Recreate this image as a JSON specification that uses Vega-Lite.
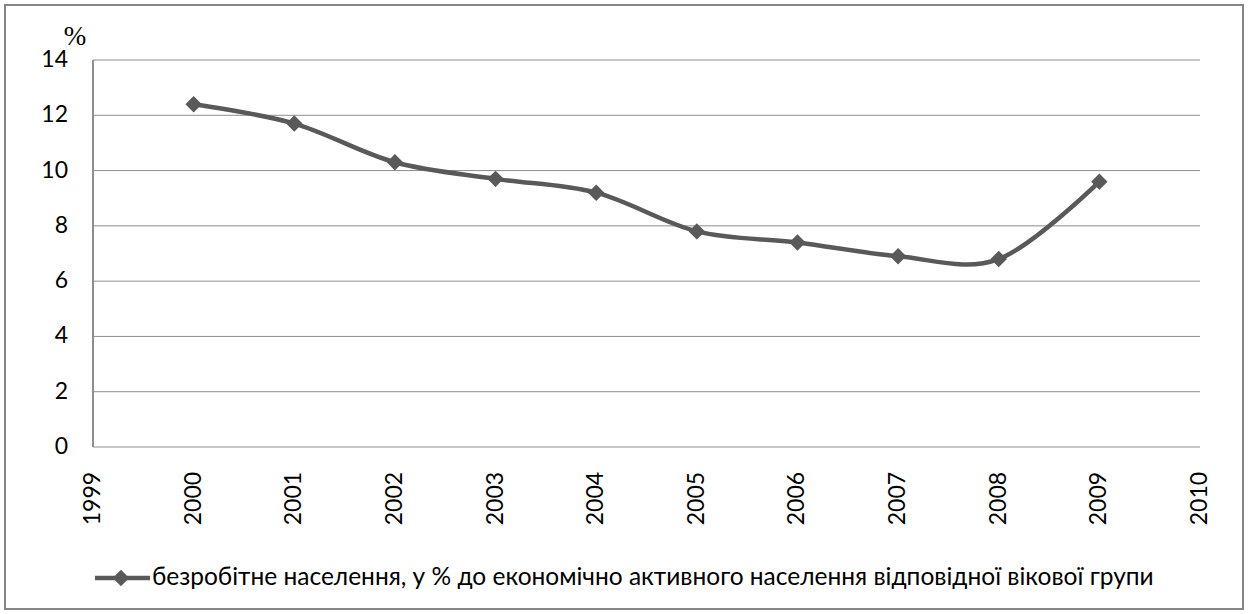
{
  "$schema": "https://vega.github.io/schema/vega-lite/v6.json",
  "width": 1248,
  "height": 614,
  "autosize": {"type": "fit", "contains": "padding"},
  "padding": 5,
  "background": "#ffffff",
  "config": {"view": {"stroke": "#868686", "strokeWidth": 2}},
  "datasets": {
    "series": [
      {"year": 2000, "value": 12.4},
      {"year": 2001, "value": 11.7},
      {"year": 2002, "value": 10.3},
      {"year": 2003, "value": 9.7},
      {"year": 2004, "value": 9.2},
      {"year": 2005, "value": 7.8},
      {"year": 2006, "value": 7.4},
      {"year": 2007, "value": 6.9},
      {"year": 2008, "value": 6.8},
      {"year": 2009, "value": 9.6}
    ],
    "yticks": [{"v": 0}, {"v": 2}, {"v": 4}, {"v": 6}, {"v": 8}, {"v": 10}, {"v": 12}, {"v": 14}],
    "xticks": [{"yr": 1999}, {"yr": 2000}, {"yr": 2001}, {"yr": 2002}, {"yr": 2003}, {"yr": 2004}, {"yr": 2005}, {"yr": 2006}, {"yr": 2007}, {"yr": 2008}, {"yr": 2009}, {"yr": 2010}],
    "legend": [{"label": "безробітне населення, у % до економічно активного населення відповідної вікової групи"}],
    "unit": [{"label": "%"}]
  },
  "layer": [
    {
      "data": {"name": "yticks"},
      "mark": {"type": "rule", "color": "#8e8e8e", "strokeWidth": 1},
      "encoding": {
        "y": {"field": "v", "type": "quantitative", "axis": null, "scale": {"domain": [-5.8605, 15.9897], "nice": false, "zero": false}},
        "x": {"datum": 1999, "type": "quantitative", "axis": null, "scale": {"domain": [1998.1256, 2010.4273], "nice": false, "zero": false}},
        "x2": {"datum": 2010}
      }
    },
    {
      "data": {"name": "yticks"},
      "mark": {"type": "rule", "color": "#8e8e8e", "strokeWidth": 1},
      "encoding": {
        "x": {"datum": 1999, "type": "quantitative", "axis": null, "scale": {"domain": [1998.1256, 2010.4273], "nice": false, "zero": false}},
        "y": {"datum": 0, "type": "quantitative", "axis": null, "scale": {"domain": [-5.8605, 15.9897], "nice": false, "zero": false}},
        "y2": {"datum": 14}
      }
    },
    {
      "data": {"name": "yticks"},
      "mark": {"type": "text", "align": "right", "baseline": "middle", "dx": -25, "font": "Lato", "fontSize": 23, "color": "#000000"},
      "encoding": {
        "x": {"datum": 1999, "type": "quantitative", "axis": null, "scale": {"domain": [1998.1256, 2010.4273], "nice": false, "zero": false}},
        "y": {"field": "v", "type": "quantitative", "axis": null, "scale": {"domain": [-5.8605, 15.9897], "nice": false, "zero": false}},
        "text": {"field": "v", "type": "quantitative"}
      }
    },
    {
      "data": {"name": "xticks"},
      "mark": {"type": "text", "align": "right", "baseline": "middle", "angle": 270, "font": "Lato", "fontSize": 23, "color": "#000000"},
      "encoding": {
        "x": {"field": "yr", "type": "quantitative", "axis": null, "scale": {"domain": [1998.1256, 2010.4273], "nice": false, "zero": false}},
        "y": {"datum": -0.9, "type": "quantitative", "axis": null, "scale": {"domain": [-5.8605, 15.9897], "nice": false, "zero": false}},
        "text": {"field": "yr", "type": "nominal"}
      }
    },
    {
      "data": {"name": "series"},
      "mark": {"type": "line", "interpolate": "cardinal", "color": "#595959", "strokeWidth": 4.5},
      "encoding": {
        "x": {"field": "year", "type": "quantitative", "axis": null, "scale": {"domain": [1998.1256, 2010.4273], "nice": false, "zero": false}},
        "y": {"field": "value", "type": "quantitative", "axis": null, "scale": {"domain": [-5.8605, 15.9897], "nice": false, "zero": false}}
      }
    },
    {
      "data": {"name": "series"},
      "mark": {"type": "point", "shape": "diamond", "filled": true, "size": 270, "color": "#595959", "opacity": 1},
      "encoding": {
        "x": {"field": "year", "type": "quantitative", "axis": null, "scale": {"domain": [1998.1256, 2010.4273], "nice": false, "zero": false}},
        "y": {"field": "value", "type": "quantitative", "axis": null, "scale": {"domain": [-5.8605, 15.9897], "nice": false, "zero": false}}
      }
    },
    {
      "data": {"name": "unit"},
      "mark": {"type": "text", "align": "center", "baseline": "middle", "dx": -18, "font": "Liberation Serif", "fontSize": 27, "color": "#000000"},
      "encoding": {
        "x": {"datum": 1999, "type": "quantitative", "axis": null, "scale": {"domain": [1998.1256, 2010.4273], "nice": false, "zero": false}},
        "y": {"datum": 14.83, "type": "quantitative", "axis": null, "scale": {"domain": [-5.8605, 15.9897], "nice": false, "zero": false}},
        "text": {"field": "label", "type": "nominal"}
      }
    },
    {
      "data": {"name": "legend"},
      "mark": {"type": "rule", "color": "#595959", "strokeWidth": 4.5},
      "encoding": {
        "x": {"datum": 1999.02, "type": "quantitative", "axis": null, "scale": {"domain": [1998.1256, 2010.4273], "nice": false, "zero": false}},
        "x2": {"datum": 1999.567},
        "y": {"datum": -4.74, "type": "quantitative", "axis": null, "scale": {"domain": [-5.8605, 15.9897], "nice": false, "zero": false}}
      }
    },
    {
      "data": {"name": "legend"},
      "mark": {"type": "point", "shape": "diamond", "filled": true, "size": 270, "color": "#595959", "opacity": 1},
      "encoding": {
        "x": {"datum": 1999.278, "type": "quantitative", "axis": null, "scale": {"domain": [1998.1256, 2010.4273], "nice": false, "zero": false}},
        "y": {"datum": -4.74, "type": "quantitative", "axis": null, "scale": {"domain": [-5.8605, 15.9897], "nice": false, "zero": false}}
      }
    },
    {
      "data": {"name": "legend"},
      "mark": {"type": "text", "align": "left", "baseline": "middle", "font": "Lato", "fontSize": 24.5, "color": "#000000"},
      "encoding": {
        "x": {"datum": 1999.586, "type": "quantitative", "axis": null, "scale": {"domain": [1998.1256, 2010.4273], "nice": false, "zero": false}},
        "y": {"datum": -4.74, "type": "quantitative", "axis": null, "scale": {"domain": [-5.8605, 15.9897], "nice": false, "zero": false}},
        "text": {"field": "label", "type": "nominal"}
      }
    }
  ]
}
